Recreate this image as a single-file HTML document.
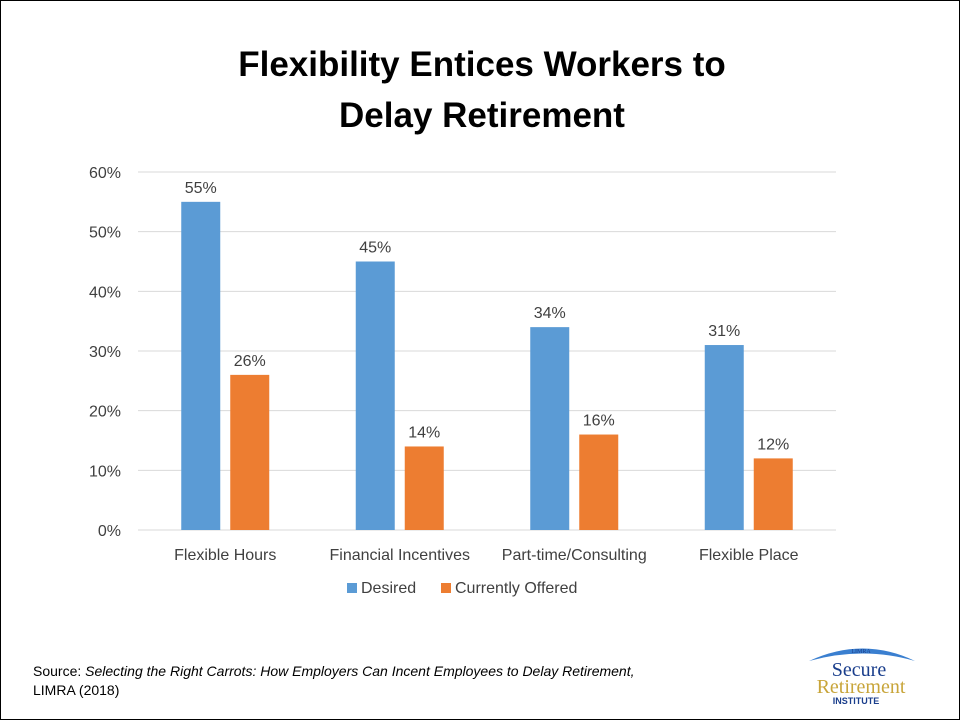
<!DOCTYPE html>
<html><head><meta charset="utf-8"><style>
body{margin:0;background:#fff}
#wrap{position:relative;width:958px;height:718px;border:1px solid #000;overflow:hidden;font-family:"Liberation Sans",sans-serif}
</style></head><body>
<div id="wrap">
<svg id="chart" width="958" height="718" style="position:absolute;left:0;top:0">
<text x="481" y="75" text-anchor="middle" font-size="35" font-weight="bold">Flexibility Entices Workers to</text>
<text x="481" y="126" text-anchor="middle" font-size="35" font-weight="bold">Delay Retirement</text>
<g id="grid"></g><g id="bars"></g>
<g>
<rect x="346" y="582" width="10" height="10" fill="#5b9bd5"/>
<text x="360" y="592" font-size="16" fill="#404040">Desired</text>
<rect x="440" y="582" width="10" height="10" fill="#ed7d31"/>
<text x="454" y="592" font-size="16" fill="#404040">Currently Offered</text>
</g>
<text x="32" y="675" font-size="14">Source: <tspan font-style="italic">Selecting the Right Carrots:  How Employers Can Incent Employees to Delay Retirement,</tspan></text>
<text x="32" y="694" font-size="14">LIMRA (2018)</text>
<g>
<path d="M808 660 Q862 635 914 660 Q862 645 808 660Z" fill="#3a7fd0"/>
<text x="860" y="652" text-anchor="middle" font-size="6" font-family="Liberation Serif" fill="#1a3e8c">LIMRA</text>
<text x="858" y="675" text-anchor="middle" font-size="20" font-family="Liberation Serif" fill="#1a3e8c">Secure</text>
<text x="860" y="692" text-anchor="middle" font-size="20" font-family="Liberation Serif" fill="#c8a53a">Retirement</text>
<text x="855" y="703" text-anchor="middle" font-size="9" font-weight="bold" fill="#1a3e8c">INSTITUTE</text>
</g>
</svg>
</div>
<script>
const categories=["Flexible Hours","Financial Incentives","Part-time/Consulting","Flexible Place"];
const desired=[55,45,34,31];
const offered=[26,14,16,12];
const yTicks=[0,10,20,30,40,50,60];
const NS="http://www.w3.org/2000/svg";
const x0=137,x1=835,yBase=529,yTop=171,yMax=60;
const y=v=>yBase-(yBase-yTop)*v/yMax;
const band=(x1-x0)/categories.length;
const cx=i=>x0+band*(i+0.5);
function mk(tag,attrs,parent){const e=document.createElementNS(NS,tag);for(const k in attrs)e.setAttribute(k,attrs[k]);parent.appendChild(e);return e;}
const grid=document.getElementById('grid'),bars=document.getElementById('bars');
yTicks.forEach(t=>{
 const l=mk('line',{x1:x0,x2:x1,y1:y(t),y2:y(t),stroke:'#d9d9d9','stroke-width':1},grid);
 
 
 const tx=mk('text',{x:120,y:y(t)+6,'text-anchor':'end','font-size':16,fill:'#404040'},grid);
 tx.textContent=t+'%';
 
 
});
const bw=39,gap=10;
categories.forEach((c,i)=>{
 [[desired,'#5b9bd5',-1,'desired'],[offered,'#ed7d31',1,'offered']].forEach(([arr,col,s,nm])=>{
  const bx=s<0?cx(i)-gap/2-bw:cx(i)+gap/2;
  const r=mk('rect',{x:bx,y:y(arr[i]),width:bw,height:yBase-y(arr[i]),fill:col},bars);
  
  
  const lt=mk('text',{x:bx+bw/2,y:y(arr[i])-9,'text-anchor':'middle','font-size':16,fill:'#404040'},bars);
  lt.textContent=arr[i]+'%';
  
  
 });
 const ct=mk('text',{x:cx(i),y:559,'text-anchor':'middle','font-size':16,fill:'#404040'},bars);
 ct.textContent=c;
 
 
});
</script>
</body></html>
